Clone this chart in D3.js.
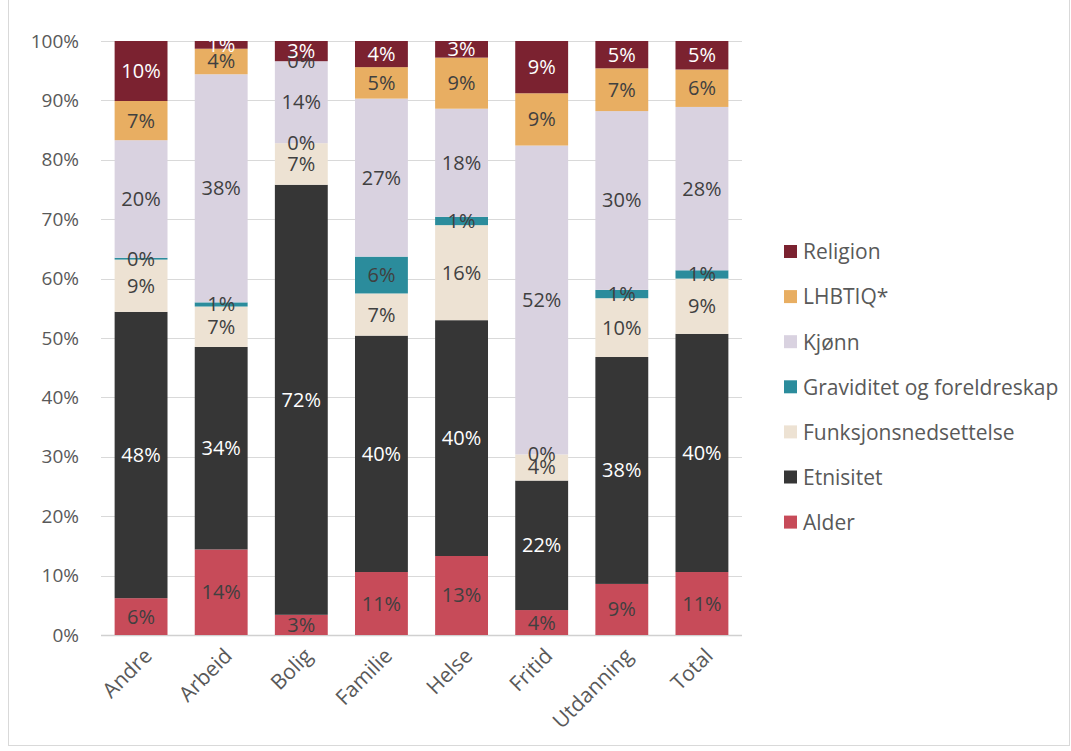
<!DOCTYPE html>
<html>
<head>
<meta charset="utf-8">
<script src="https://cdnjs.cloudflare.com/ajax/libs/d3/7.8.5/d3.min.js"></script>
<style>
  html, body { margin: 0; padding: 0; background: #fff; }
  svg { display: block; }
  text { font-family: "Open Sans", "Noto Sans", sans-serif; }
</style>
</head>
<body>
<svg id="chart" width="1071" height="751"></svg>
<script>
// ---- data ----
const categories = ["Andre", "Arbeid", "Bolig", "Familie", "Helse", "Fritid", "Utdanning", "Total"];
const seriesNames = ["Alder", "Etnisitet", "Funksjonsnedsettelse", "Graviditet og foreldreskap", "Kjønn", "LHBTIQ*", "Religion"];
const alder      = [6.2, 14.4, 3.4, 10.6, 13.3, 4.2, 8.6, 10.6];
const etnisitet  = [48.2, 34.1, 72.4, 39.8, 39.7, 21.8, 38.2, 40.1];
const funksjon   = [8.8, 6.8, 7.0, 7.1, 16.0, 4.4, 9.9, 9.3];
const graviditet = [0.3, 0.7, 0.0, 6.2, 1.4, 0.0, 1.4, 1.4];
const kjonn      = [19.8, 38.4, 13.8, 26.6, 18.2, 52.0, 30.1, 27.5];
const lhbtiq     = [6.6, 4.3, 0.0, 5.3, 8.6, 8.8, 7.2, 6.3];
const religion   = [10.1, 1.3, 3.4, 4.4, 2.8, 8.8, 4.6, 4.8];
const yTicks = [0, 0.1, 0.2, 0.3, 0.4, 0.5, 0.6, 0.7, 0.8, 0.9, 1.0];

const seriesValues = [alder, etnisitet, funksjon, graviditet, kjonn, lhbtiq, religion];
const colors = ["#C74B59", "#363636", "#EDE2D3", "#2B8C9C", "#D9D2E0", "#E8AE62", "#7B2230"];
const labelColors = ["#404040", "#ffffff", "#404040", "#404040", "#404040", "#404040", "#ffffff"];

const rows = categories.map((c, i) => {
  const r = { cat: c };
  seriesNames.forEach((s, j) => r[s] = seriesValues[j][i]);
  return r;
});

const svg = d3.select("#chart");
// outer border
svg.append("rect").attr("x", 8.5).attr("y", -1).attr("width", 1061).attr("height", 746.5)
  .attr("fill", "none").attr("stroke", "#d9d9d9");

const margin = { left: 101, right: 329, top: 41, bottom: 116 };
const W = 1071, H = 751;
const FS = 20;
const x = d3.scaleBand().domain(categories).range([margin.left, W - margin.right]).paddingInner(0.34).paddingOuter(0.17);
const y = d3.scaleLinear().domain([0, 1]).range([H - margin.bottom, margin.top]);

const stack = d3.stack().keys(seriesNames).offset(d3.stackOffsetExpand);
const stacked = stack(rows);

// gridlines
svg.append("g").selectAll("line").data(yTicks).join("line")
  .attr("x1", margin.left).attr("x2", W - margin.right)
  .attr("y1", d => Math.round(y(d)) + 0.5).attr("y2", d => Math.round(y(d)) + 0.5)
  .attr("stroke", d => d === 0 ? "#d0d0d0" : "#d9d9d9").attr("stroke-width", d => d === 0 ? 1.5 : 1);

// y labels
svg.append("g").selectAll("text").data(yTicks).join("text")
  .attr("x", 79).attr("y", d => y(d)).attr("dy", "0.35em")
  .attr("text-anchor", "end").attr("font-size", FS - 1).attr("fill", "#595959")
  .text(d3.format(".0%"));

// bars
const layers = svg.append("g").selectAll("g").data(stacked).join("g")
  .attr("fill", (d, i) => colors[i]);
layers.selectAll("rect").data(d => d).join("rect")
  .attr("x", d => x(d.data.cat))
  .attr("y", d => y(d[1]))
  .attr("width", x.bandwidth())
  .attr("height", d => Math.max(0, y(d[0]) - y(d[1])));

// labels
const fmt = d3.format(".0%");
const lab = svg.append("g");
stacked.forEach((layer, i) => {
  layer.forEach(d => {
    const v = d.data[layer.key] / 100;
    lab.append("text")
      .attr("x", x(d.data.cat) + x.bandwidth() / 2)
      .attr("y", (y(d[0]) + y(d[1])) / 2)
      .attr("dy", "0.35em")
      .attr("text-anchor", "middle")
      .attr("font-size", FS)
      .attr("fill", labelColors[i])
      .text(fmt(v));
  });
});

// x labels
svg.append("g").selectAll("text").data(categories).join("text")
  .attr("transform", d => `translate(${x(d) + x.bandwidth() / 2 + 7},${H - margin.bottom + 17}) rotate(-45)`)
  .attr("text-anchor", "end").attr("dy", "0.35em")
  .attr("font-size", FS + 1).attr("fill", "#595959")
  .text(d => d);

// legend
const legendOrder = seriesNames.map((s, i) => i).reverse();
const lg = svg.append("g").selectAll("g").data(legendOrder).join("g")
  .attr("transform", (d, k) => `translate(784,${252 + k * 45.1})`);
lg.append("rect").attr("x", 0).attr("y", -7).attr("width", 13).attr("height", 13).attr("fill", d => colors[d]);
lg.append("text").attr("x", 19).attr("y", 0).attr("dy", "0.35em")
  .attr("font-size", FS + 1).attr("fill", "#595959").text(d => seriesNames[d]);
</script>
</body>
</html>
